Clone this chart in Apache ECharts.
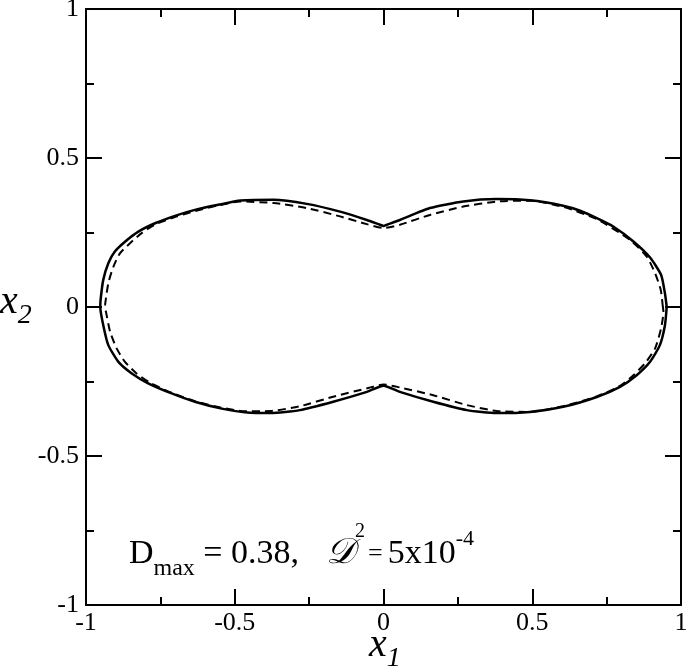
<!DOCTYPE html>
<html>
<head>
<meta charset="utf-8">
<script src="https://cdn.jsdelivr.net/npm/echarts@6/dist/echarts.min.js"></script>
<style>
    html, body { margin: 0; padding: 0; background: #fff; }
    #chart { width: 686px; height: 669px; }
</style>
</head>
<body>
<div id="chart"></div>
<script>
// axis range and ticks
const axisMin = -1;
const axisMax = 1;
const tickStep = 0.5;

// solid curve: upper half (right -> left), lower half (left -> right)
const solidUpper = [
    [0.952, 0.0], [0.946, 0.046], [0.933, 0.108], [0.896, 0.166], [0.840, 0.220],
    [0.772, 0.270], [0.717, 0.298], [0.661, 0.323], [0.604, 0.340], [0.492, 0.358],
    [0.380, 0.362], [0.268, 0.354], [0.156, 0.332], [0.055, 0.292], [0.011, 0.276],
    [0.0, 0.272], [-0.012, 0.276], [-0.056, 0.292], [-0.146, 0.320], [-0.258, 0.346],
    [-0.370, 0.360], [-0.480, 0.357], [-0.555, 0.343], [-0.634, 0.326], [-0.701, 0.306],
    [-0.768, 0.281], [-0.824, 0.253], [-0.869, 0.219], [-0.903, 0.186], [-0.925, 0.147],
    [-0.942, 0.091], [-0.951, 0.024], [-0.952, 0.0]
];
const solidLower = [
    [-0.942, -0.061], [-0.925, -0.128], [-0.891, -0.184], [-0.846, -0.223], [-0.791, -0.256],
    [-0.712, -0.290], [-0.634, -0.318], [-0.544, -0.341], [-0.466, -0.353], [-0.380, -0.356],
    [-0.281, -0.346], [-0.169, -0.318], [-0.056, -0.285], [0.0, -0.264], [0.055, -0.285],
    [0.167, -0.318], [0.280, -0.346], [0.380, -0.356], [0.492, -0.352], [0.604, -0.335],
    [0.717, -0.302], [0.795, -0.268], [0.851, -0.229], [0.896, -0.184], [0.929, -0.128],
    [0.946, -0.061], [0.952, 0.0]
];

// dashed curve
const dashedUpper = [
    [0.939, 0.0], [0.932, 0.057], [0.913, 0.113], [0.885, 0.169], [0.829, 0.225],
    [0.717, 0.295], [0.604, 0.336], [0.492, 0.357], [0.380, 0.354], [0.268, 0.337],
    [0.156, 0.309], [0.055, 0.276], [0.0, 0.265], [-0.056, 0.278], [-0.146, 0.304],
    [-0.258, 0.332], [-0.370, 0.349], [-0.482, 0.354], [-0.555, 0.341], [-0.634, 0.322],
    [-0.701, 0.302], [-0.768, 0.277], [-0.813, 0.248], [-0.852, 0.214], [-0.886, 0.180],
    [-0.908, 0.135], [-0.925, 0.080], [-0.936, 0.007], [-0.937, 0.0]
];
const dashedLower = [
    [-0.933, -0.016], [-0.919, -0.083], [-0.897, -0.139], [-0.869, -0.184], [-0.830, -0.223],
    [-0.785, -0.254], [-0.712, -0.288], [-0.634, -0.316], [-0.544, -0.338], [-0.466, -0.350],
    [-0.380, -0.349], [-0.281, -0.333], [-0.169, -0.301], [-0.056, -0.273], [0.0, -0.260],
    [0.055, -0.270], [0.167, -0.296], [0.280, -0.329], [0.380, -0.349], [0.492, -0.352],
    [0.604, -0.333], [0.717, -0.300], [0.795, -0.265], [0.840, -0.229], [0.879, -0.189],
    [0.913, -0.139], [0.933, -0.072], [0.941, -0.016], [0.939, 0.0]
];

const serif = "'Liberation Serif', 'DejaVu Serif', serif";

function makeAxis(pos, showLabel, margin) {
    return {
        type: 'value',
        position: pos,
        min: axisMin,
        max: axisMax,
        interval: tickStep,
        axisLine: { onZero: false, lineStyle: { color: '#000', width: 2 } },
        axisTick: { inside: true, length: 16, lineStyle: { color: '#000', width: 2 } },
        minorTick: { show: true, splitNumber: 2, length: 8, lineStyle: { color: '#000', width: 2 } },
        splitLine: { show: false },
        axisLabel: {
            show: showLabel,
            color: '#000',
            fontFamily: serif,
            fontSize: 26,
            margin: margin
        }
    };
}

const chart = echarts.init(document.getElementById('chart'));
chart.setOption({
    animation: false,
    backgroundColor: '#fff',
    grid: { left: 86, right: 5, top: 9, bottom: 64, outerBoundsMode: 'none' },
    xAxis: [makeAxis('bottom', true, 5), makeAxis('top', false, 5)],
    yAxis: [makeAxis('left', true, 7), makeAxis('right', false, 7)],
    series: [
        {
            type: 'line',
            data: solidUpper.concat(solidLower),
            showSymbol: false,
            smooth: 0.2,
            lineStyle: { color: '#000', width: 2.5 }
        },
        {
            type: 'line',
            data: dashedUpper.concat(dashedLower),
            showSymbol: false,
            smooth: 0.2,
            lineStyle: { color: '#000', width: 2, type: [8, 5] }
        }
    ],
    graphic: [
        {
            type: 'text',
            left: 129,
            top: 511,
            style: {
                text: '{m|D}{sub|max}{m| = 0.38,  }{c|\u{1D49F}}{sup|2}{e|=}{m|5x10}{sup2|-4}',
                fill: '#000',
                rich: {
                    m: { fontFamily: serif, fontSize: 34, lineHeight: 34, padding: [26, 0, 0, 0], verticalAlign: 'top' },
                    e: { fontFamily: serif, fontSize: 26, lineHeight: 26, padding: [30, 5, 0, 3], verticalAlign: 'top' },
                    c: { fontFamily: serif, fontSize: 36, fontStyle: 'italic', lineHeight: 36, padding: [25, 0, 0, 10], verticalAlign: 'top' },
                    sub: { fontFamily: serif, fontSize: 24, lineHeight: 24, padding: [46, 0, 0, 0], verticalAlign: 'top' },
                    sup: { fontFamily: serif, fontSize: 20, lineHeight: 20, padding: [11, 0, 0, 0], verticalAlign: 'top' },
                    sup2: { fontFamily: serif, fontSize: 22, lineHeight: 22, padding: [17, 0, 0, 0], verticalAlign: 'top' }
                }
            }
        },
        {
            type: 'text',
            left: 369,
            top: 625,
            style: {
                text: '{x|x}{s|1}',
                fill: '#000',
                rich: {
                    x: { fontFamily: serif, fontSize: 40, fontStyle: 'italic', lineHeight: 40, verticalAlign: 'top' },
                    s: { fontFamily: serif, fontSize: 28, fontStyle: 'italic', lineHeight: 28, padding: [20, 0, 0, 0], verticalAlign: 'top' }
                }
            }
        },
        {
            type: 'text',
            left: 0,
            top: 282,
            style: {
                text: '{x|x}{s|2}',
                fill: '#000',
                rich: {
                    x: { fontFamily: serif, fontSize: 40, fontStyle: 'italic', lineHeight: 40, verticalAlign: 'top' },
                    s: { fontFamily: serif, fontSize: 28, fontStyle: 'italic', lineHeight: 28, padding: [20, 0, 0, 0], verticalAlign: 'top' }
                }
            }
        }
    ]
});
</script>
</body>
</html>
